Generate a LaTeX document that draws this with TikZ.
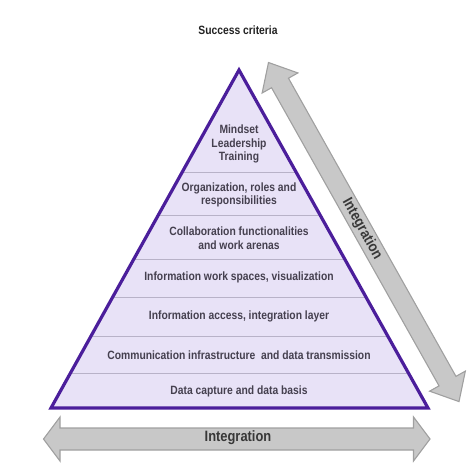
\documentclass[tikz,border=0pt]{standalone}
\usepackage{fontspec}
\newfontfamily\lab{Liberation Sans}[FakeStretch=0.86]
\definecolor{pyrfill}{HTML}{E8E2F7}
\definecolor{pyredge}{HTML}{4B1E9B}
\definecolor{layerline}{HTML}{B8B2C8}
\definecolor{labcol}{HTML}{45404F}
\definecolor{titlecol}{HTML}{222222}
\definecolor{arrfill}{HTML}{C8C8C8}
\definecolor{arredge}{HTML}{A0A0A0}
\definecolor{intcol}{HTML}{383838}
\begin{document}
\begin{tikzpicture}[x=1pt,y=-1pt,
  layerlab/.style={font=\lab\bfseries\fontsize{12}{13.6}\selectfont, text=labcol, align=center, inner sep=0pt},
  titlelab/.style={font=\lab\bfseries\fontsize{12}{14}\selectfont, text=titlecol, inner sep=0pt},
  intlab/.style={font=\lab\bfseries\fontsize{15}{17}\selectfont, text=intcol, inner sep=0pt},
  layerline/.style={draw=layerline, line width=0.8pt},
  pyrborder/.style={draw=pyredge, line width=3.2pt, line join=miter},
  bigarrow/.style={fill=arrfill, draw=arredge, line width=1.1pt, line join=miter}]
\useasboundingbox (0,0) rectangle (474,476);
% title
\node[titlelab] (title) at (238,30) {Success criteria};
% pyramid
\coordinate (apex) at (239,70);
\coordinate (bl) at (51,408);
\coordinate (br) at (428,408);
\fill[pyrfill] (apex)--(bl)--(br)--cycle;
\begin{scope}
  \clip (apex)--(bl)--(br)--cycle;
  \foreach \yy in {172,215,259,297,336,373}
    \draw[layerline] (0,\yy)--(474,\yy);
\end{scope}
\draw[pyrborder] (apex)--(bl)--(br)--cycle;
% layer texts
\node[layerlab] (l7) at (239,144) {Mindset\\Leadership\\Training};
\node[layerlab] (l6) at (239,195) {Organization, roles and\\responsibilities};
\node[layerlab] (l5) at (239,238) {Collaboration functionalities\\and work arenas};
\node[layerlab] (l4) at (239,277) {Information work spaces, visualization};
\node[layerlab] (l3) at (239,316) {Information access, integration layer};
\node[layerlab] (l2) at (239,355) {Communication infrastructure\ \ and data transmission};
\node[layerlab] (l1) at (239,391) {Data capture and data basis};
% diagonal double arrow
\draw[bigarrow] (268.5,62.5) -- (297.88,72.94) -- (288.47,78.23) -- (455.95,376.37)
  -- (465.36,371.08) -- (459,401.6) -- (429.62,391.16) -- (439.03,385.87)
  -- (271.55,87.73) -- (262.14,93.02) -- cycle;
\node[intlab, rotate=-60.67] (diaglab) at (362,229) {Integration};
% bottom double arrow
\draw[bigarrow] (43.5,439) -- (60,417) -- (60,428) -- (413.5,428) -- (413.5,417)
  -- (430,439) -- (413.5,461) -- (413.5,450) -- (60,450) -- (60,461) -- cycle;
\node[intlab] (botlab) at (238,438) {Integration};
\end{tikzpicture}
\end{document}
